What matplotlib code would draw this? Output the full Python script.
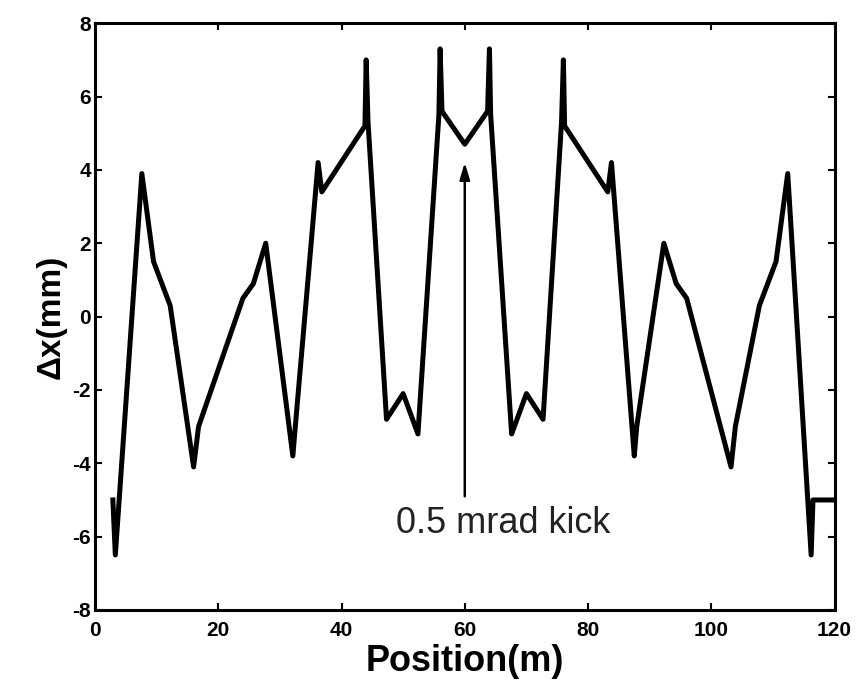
import matplotlib
matplotlib.use("Agg")
import matplotlib.pyplot as plt

plt.rcParams["font.family"] = ["Liberation Sans", "DejaVu Sans"]
plt.rcParams["axes.unicode_minus"] = False

# orbit distortion along the ring, position in m, displacement in mm
position = [2.9, 3.3, 7.6, 9.5, 12.2, 16.0, 16.8, 24.0, 25.7, 27.7, 32.1, 32.5,
            36.2, 36.8, 43.8, 44.0, 44.3, 47.3, 50.0, 52.4, 55.8, 56.0, 56.3,
            60.0,
            63.7, 64.0, 64.2, 67.6, 70.0, 72.7, 75.7, 76.0, 76.2, 83.2, 83.8,
            87.5, 87.9, 92.3, 94.3, 96.0, 103.2, 103.9, 107.8, 110.5, 112.4,
            116.2, 116.5, 120.0]
dx = [-5.0, -6.5, 3.9, 1.5, 0.3, -4.1, -3.0, 0.5, 0.9, 2.0, -3.8, -3.0,
      4.2, 3.4, 5.2, 7.0, 5.3, -2.8, -2.1, -3.2, 5.5, 7.3, 5.6,
      4.7,
      5.6, 7.3, 5.5, -3.2, -2.1, -2.8, 5.3, 7.0, 5.2, 3.4, 4.2,
      -3.8, -3.0, 2.0, 0.9, 0.5, -4.1, -3.0, 0.3, 1.5, 3.9,
      -6.5, -5.0, -5.0]

kick_pos = 60
kick_from, kick_to = -4.9, 4.2

fig = plt.figure(figsize=(8.66, 6.92), dpi=100)
ax = fig.add_axes([0.1097, 0.1185, 0.854, 0.848])

ax.plot(position, dx, color="black", lw=3.6, solid_joinstyle="round")

ax.annotate("", xy=(kick_pos, kick_to), xytext=(kick_pos, kick_from),
            arrowprops=dict(arrowstyle="-|>,head_length=1.0,head_width=0.3",
                            color="black", lw=1.8, shrinkA=0, shrinkB=0))
ax.text(66.2, -5.65, "0.5 mrad kick", ha="center", va="center", fontsize=26,
        color="#222222")

ax.set_xlim(0, 120)
ax.set_ylim(-8, 8)
ax.set_xticks(range(0, 121, 20))
ax.set_yticks(range(-8, 9, 2))
ax.tick_params(direction="in", length=5, width=1.5, labelsize=15,
               top=True, right=True)
ax.tick_params(axis="x", pad=8)
ax.tick_params(axis="y", pad=3)
for lbl in ax.get_xticklabels() + ax.get_yticklabels():
    lbl.set_fontweight("bold")
for s in ax.spines.values():
    s.set_linewidth(2.2)

ax.set_xlabel("Position(m)", fontsize=26, fontweight="bold", labelpad=3)
ax.set_ylabel("Δx(mm)", fontsize=24, fontweight="bold", labelpad=4)

plt.savefig("out.png", dpi=100)
